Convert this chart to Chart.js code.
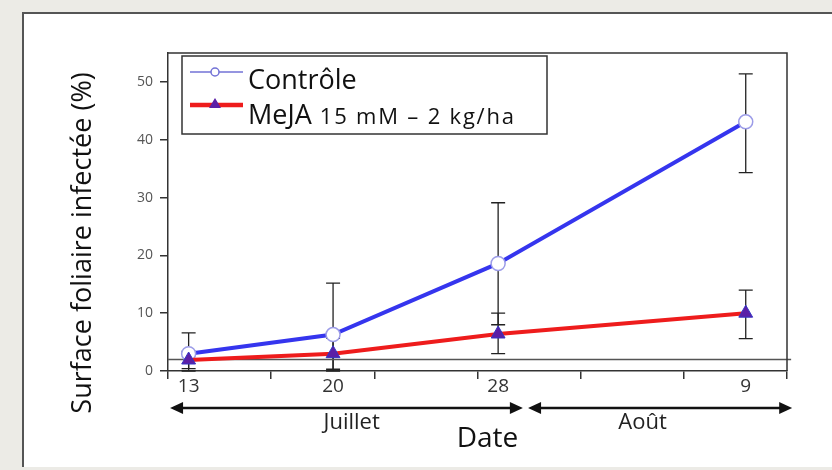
<!DOCTYPE html>
<html>
<head>
<meta charset="utf-8">
<script src="https://cdn.jsdelivr.net/npm/chart.js@4/dist/chart.umd.min.js"></script>
<style>
  html, body { margin: 0; padding: 0; background: #ecebe6; }
  #wrap { position: relative; width: 832px; height: 470px; overflow: hidden; }
  #panel { position: absolute; left: 22px; top: 12px; width: 810px; height: 455px;
           background: #fff; border-top: 2px solid #555; border-left: 2px solid #555; box-sizing: border-box; }
  canvas { position: absolute; left: 0; top: 0; }
</style>
</head>
<body>
<div id="wrap">
  <div id="panel"></div>
  <canvas id="c" width="832" height="470"></canvas>
</div>
<script>
// Sampling dates as day numbers counted from 1 July (9 August = day 40)
const sampleDays = [13, 20, 28, 40];
const dateLabels = ['13', '20', '28', '9'];

// Infected leaf surface (%), mean with lower / upper error bounds
const controlMean = [3.0, 6.3, 18.6, 43.1];
const controlLow  = [0.0, 0.0, 8.0, 34.3];
const controlHigh = [6.6, 15.2, 29.1, 51.4];

const mejaMean = [1.9, 3.0, 6.4, 10.0];
const mejaLow  = [0.4, 0.3, 3.0, 5.6];
const mejaHigh = [3.4, 5.7, 10.0, 14.0];

// Reference level line
const baselineDays  = [12, 42.2];
const baselineLevel = [2, 2];

// Axis ticks
const yTicks = [0, 10, 20, 30, 40, 50];
const axisDays = [12, 17, 22, 27, 32, 37, 42];

// Month spans under the date axis (day numbers)
const monthNames = ['Juillet', 'Août'];
const monthFrom  = [12.1, 29.45];
const monthTo    = [29.2, 42.25];
const monthLabelAt = [20.9, 35.0];

const FONT = "'Open Sans', 'DejaVu Sans', sans-serif";

const points = (xs, ys) => xs.map((x, i) => ({ x: x, y: ys[i] }));

// Vertical error bars with caps, drawn beneath the markers
const errorBars = {
  id: 'errorBars',
  beforeDatasetsDraw(chart) {
    const { ctx } = chart;
    const xs = chart.scales.x, ys = chart.scales.y;
    ctx.save();
    ctx.strokeStyle = '#222';
    ctx.lineWidth = 1.3;
    chart.data.datasets.forEach(ds => {
      if (!ds.low) return;
      ds.data.forEach((p, i) => {
        const px = xs.getPixelForValue(p.x);
        const y1 = ys.getPixelForValue(ds.low[i]);
        const y2 = ys.getPixelForValue(ds.high[i]);
        ctx.beginPath();
        ctx.moveTo(px, y1); ctx.lineTo(px, y2);
        ctx.moveTo(px - 7, y1); ctx.lineTo(px + 7, y1);
        ctx.moveTo(px - 7, y2); ctx.lineTo(px + 7, y2);
        ctx.stroke();
      });
    });
    ctx.restore();
  }
};

function arrowHead(ctx, x, y, dir) {
  ctx.beginPath();
  ctx.moveTo(x, y);
  ctx.lineTo(x - dir * 13, y - 6);
  ctx.lineTo(x - dir * 13, y + 6);
  ctx.closePath();
  ctx.fill();
}

// Plot frame, month arrows, axis titles and legend box
const decorations = {
  id: 'decorations',
  afterDraw(chart) {
    const { ctx, chartArea: a } = chart;
    const xs = chart.scales.x;
    ctx.save();

    // top and right edges of the plot frame
    ctx.strokeStyle = '#333';
    ctx.lineWidth = 1.5;
    ctx.beginPath();
    ctx.moveTo(a.left, a.top); ctx.lineTo(a.right, a.top); ctx.lineTo(a.right, a.bottom);
    ctx.stroke();

    // month arrows
    ctx.fillStyle = '#111';
    ctx.strokeStyle = '#111';
    ctx.lineWidth = 2.5;
    const ay = 408;
    monthNames.forEach((m, i) => {
      const x1 = xs.getPixelForValue(monthFrom[i]);
      const x2 = xs.getPixelForValue(monthTo[i]);
      ctx.beginPath();
      ctx.moveTo(x1 + 8, ay); ctx.lineTo(x2 - 8, ay);
      ctx.stroke();
      arrowHead(ctx, x1, ay, -1);
      arrowHead(ctx, x2, ay, 1);
      ctx.font = '22px ' + FONT;
      ctx.fillStyle = '#222';
      ctx.textAlign = 'center';
      ctx.textBaseline = 'middle';
      ctx.fillText(m, xs.getPixelForValue(monthLabelAt[i]), 423);
      ctx.fillStyle = '#111';
    });

    // axis titles
    ctx.fillStyle = '#111';
    ctx.font = '28px ' + FONT;
    ctx.textAlign = 'center';
    ctx.textBaseline = 'middle';
    ctx.fillText('Date', (a.left + a.right) / 2 + 10, 439);

    ctx.save();
    ctx.translate(83, 243);
    ctx.rotate(-Math.PI / 2);
    ctx.font = '27px ' + FONT;
    ctx.fillText('Surface foliaire infectée (%)', 0, 0);
    ctx.restore();

    // legend
    const ds = chart.data.datasets;
    const lx = 182, ly = 56, lw = 365, lh = 78;
    ctx.fillStyle = '#fff';
    ctx.fillRect(lx, ly, lw, lh);
    ctx.strokeStyle = '#333';
    ctx.lineWidth = 1.5;
    ctx.strokeRect(lx, ly, lw, lh);

    // Contrôle entry
    const r1 = 72;
    ctx.strokeStyle = '#7272d6';
    ctx.lineWidth = 1.5;
    ctx.beginPath(); ctx.moveTo(190, r1); ctx.lineTo(243, r1); ctx.stroke();
    ctx.fillStyle = ds[0].pointBackgroundColor;
    ctx.beginPath(); ctx.arc(215, r1, 4, 0, Math.PI * 2); ctx.fill(); ctx.stroke();
    ctx.fillStyle = '#111';
    ctx.textAlign = 'left';
    ctx.textBaseline = 'alphabetic';
    ctx.font = '27px ' + FONT;
    ctx.fillText(ds[0].label, 248, 89);

    // MeJA entry
    const r2 = 105;
    ctx.strokeStyle = ds[1].borderColor;
    ctx.lineWidth = 4.5;
    ctx.beginPath(); ctx.moveTo(190, r2); ctx.lineTo(243, r2); ctx.stroke();
    ctx.fillStyle = ds[1].pointBackgroundColor;
    ctx.beginPath();
    ctx.moveTo(215, r2 - 7); ctx.lineTo(221, r2 + 3); ctx.lineTo(209, r2 + 3); ctx.closePath();
    ctx.fill();
    ctx.fillStyle = '#111';
    ctx.font = '27px ' + FONT;
    ctx.fillText(ds[1].label, 248, 124);
    const w = ctx.measureText(ds[1].label).width;
    ctx.font = '22px ' + FONT;
    ctx.letterSpacing = '1.8px';
    ctx.fillText('15 mM – 2 kg/ha', 248 + w + 8, 124);
    ctx.letterSpacing = '0px';

    ctx.restore();
  }
};

new Chart(document.getElementById('c'), {
  type: 'line',
  data: {
    datasets: [
      {
        label: 'Contrôle',
        data: points(sampleDays, controlMean),
        low: controlLow, high: controlHigh,
        borderColor: '#3535ee', borderWidth: 4,
        pointStyle: 'circle', pointRadius: 7,
        pointBackgroundColor: '#ffffff', pointBorderColor: '#9c9ce8', pointBorderWidth: 1.5,
        tension: 0, order: 2
      },
      {
        label: 'MeJA',
        data: points(sampleDays, mejaMean),
        low: mejaLow, high: mejaHigh,
        borderColor: '#ee1c1c', borderWidth: 4,
        pointStyle: 'triangle', pointRadius: 8,
        pointBackgroundColor: '#5b1fa6', pointBorderColor: '#3434c4', pointBorderWidth: 1,
        tension: 0, order: 1
      },
      {
        label: 'niveau',
        data: points(baselineDays, baselineLevel),
        borderColor: '#555', borderWidth: 1.5,
        pointRadius: 0, clip: false, order: 3
      }
    ]
  },
  options: {
    responsive: false,
    animation: false,
    events: [],
    layout: { padding: { top: 53, right: 45, left: 0, bottom: 0 } },
    plugins: { legend: { display: false }, tooltip: { enabled: false } },
    scales: {
      x: {
        type: 'linear', min: 12, max: 42, position: 'bottom', weight: 0,
        afterBuildTicks: s => { s.ticks = axisDays.map(v => ({ value: v })); },
        ticks: { display: false },
        grid: { drawOnChartArea: false, tickLength: 8, color: '#333', lineWidth: 1.5 },
        border: { color: '#333', width: 1.5 },
        afterFit: s => { s.height = 8; }
      },
      x2: {
        type: 'linear', min: 12, max: 42, position: 'bottom', weight: 1,
        afterBuildTicks: s => { s.ticks = sampleDays.map(v => ({ value: v })); },
        ticks: {
          callback: (v, i) => dateLabels[i],
          font: { family: FONT, size: 19 }, color: '#333',
          padding: -4, maxRotation: 0, autoSkip: false
        },
        grid: { display: false, drawTicks: false },
        border: { display: false },
        afterFit: s => { s.height = 91; }
      },
      y: {
        min: 0, max: 55,
        afterBuildTicks: s => { s.ticks = yTicks.map(v => ({ value: v })); },
        ticks: { font: { family: FONT, size: 14 }, color: '#555', padding: 7 },
        grid: { drawOnChartArea: false, tickLength: 8, color: '#333', lineWidth: 1.5 },
        border: { color: '#333', width: 1.5 },
        afterFit: s => { s.width = 168; }
      }
    }
  },
  plugins: [errorBars, decorations]
});
</script>
</body>
</html>
